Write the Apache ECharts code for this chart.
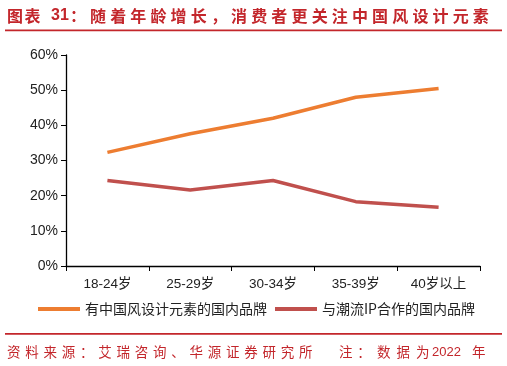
<!DOCTYPE html>
<html><head><meta charset="utf-8">
<script src="https://cdn.jsdelivr.net/npm/echarts@6/dist/echarts.min.js"></script>
<style>html,body{margin:0;padding:0;background:#fff}#c{width:507px;height:366px}</style>
</head><body><div id="c"></div>
<script>
const categories = ['18-24岁','25-29岁','30-34岁','35-39岁','40岁以上'];
const seriesNames = ['有中国风设计元素的国内品牌','与潮流IP合作的国内品牌'];
const chinaStyle = [32.3, 37.6, 42.0, 48.0, 50.5];
const ipCollab = [24.3, 21.6, 24.3, 18.3, 16.7];
const yTicks = [0, 10, 20, 30, 40, 50, 60];

const FONT = '"Noto Sans CJK SC", "Liberation Sans", sans-serif';
const RED = '#c3262b';

// spaced text helper (letter-spaced Chinese report header/footer)
function spaced(str, x0, step, y, font) {
  return Array.from(str).map((ch, i) => ({
    type: 'text', x: x0 + i * step, y: y,
    style: {text: ch, fill: RED, font: font, textVerticalAlign: 'middle'}
  }));
}
const TF = 'bold 16px ' + FONT;
const FF = '13.5px ' + FONT;
const graphics = [].concat(
  spaced('图表', 7, 17.5, 16, TF),
  [{type: 'text', x: 51, y: 16, style: {text: '31', fill: RED, font: 'bold 16px "Liberation Sans", sans-serif', textVerticalAlign: 'middle'}}],
  spaced('：', 70, 20, 16, TF),
  spaced('随着年龄增长，消费者更关注中国风设计元素', 90, 20.15, 16, TF),
  [{type: 'rect', shape: {x: 5, y: 29.5, width: 497, height: 1.8}, style: {fill: RED}},
   {type: 'rect', shape: {x: 5, y: 333, width: 497, height: 1.8}, style: {fill: RED}}],
  spaced('资料来源：艾瑞咨询、华源证券研究所', 7, 18.25, 352, FF),
  spaced('注：', 339, 18.3, 352, FF),
  spaced('数据为', 377, 19.5, 352, FF),
  [{type: 'text', x: 432, y: 352, style: {text: '2022', fill: RED, font: '13px "Liberation Sans", sans-serif', textVerticalAlign: 'middle'}}],
  spaced('年', 472, 18, 352, FF)
);

const chart = echarts.init(document.getElementById('c'), null, {renderer:'canvas'});
chart.setOption({
  animation: false,
  textStyle: {fontFamily: FONT},
  grid: {left: 66, right: 27, top: 55, bottom: 100, containLabel: false},
  legend: {
    left: 33, top: 297, itemWidth: 42, itemHeight: 4, itemGap: 8,
    icon: 'rect',
    textStyle: {fontSize: 14, color: '#222', fontFamily: FONT},
    data: seriesNames
  },
  xAxis: {
    type: 'category', data: categories, boundaryGap: true,
    axisLine: {lineStyle: {color: '#000', width: 1.3}},
    axisTick: {show: true, length: 5, lineStyle: {color: '#000'}},
    axisLabel: {fontSize: 13.5, color: '#222', margin: 12, fontFamily: '"Liberation Sans", "Noto Sans CJK SC", sans-serif'}
  },
  yAxis: {
    type: 'value', min: yTicks[0], max: yTicks[yTicks.length-1], interval: 10,
    axisLine: {show: true, lineStyle: {color: '#000', width: 1.3}},
    axisTick: {show: true, length: 5, inside: false, lineStyle: {color: '#000'}},
    splitLine: {show: false},
    axisLabel: {fontSize: 14, color: '#222', margin: 8, formatter: v => v + '%', fontFamily: '"Liberation Sans", sans-serif'}
  },
  series: [
    {name: seriesNames[0], type: 'line', data: chinaStyle, symbol: 'none',
     lineStyle: {color: '#ed7d31', width: 3.5}, itemStyle: {color: '#ed7d31'}},
    {name: seriesNames[1], type: 'line', data: ipCollab, symbol: 'none',
     lineStyle: {color: '#c0504d', width: 3.5}, itemStyle: {color: '#c0504d'}}
  ],
  graphic: graphics
});
</script></body></html>
